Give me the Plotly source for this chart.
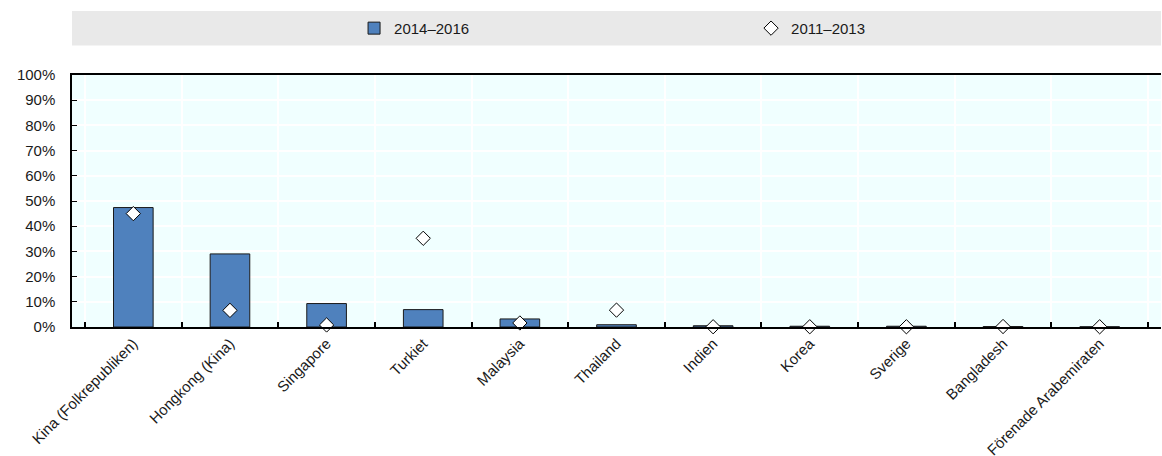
import plotly.graph_objects as go

categories = ["Kina (Folkrepubliken)", "Hongkong (Kina)", "Singapore", "Turkiet", "Malaysia",
              "Thailand", "Indien", "Korea", "Sverige", "Bangladesh", "Förenade Arabemiraten"]
share_2014_2016 = [47.4, 29.0, 9.3, 6.9, 3.2, 0.9, 0.5, 0.3, 0.3, 0.2, 0.1]
share_2011_2013 = [45.0, 6.6, 0.8, 35.2, 1.6, 6.7, 0.1, 0.1, 0.1, 0.2, 0.1]
y_ticks = [0, 10, 20, 30, 40, 50, 60, 70, 80, 90, 100]

FONT = "Liberation Sans, Arial, sans-serif"
TXT = "#1a1a1a"

fig = go.Figure()
fig.add_trace(go.Bar(
    x=categories, y=share_2014_2016, name="2014–2016",
    marker=dict(color="#4F81BD", line=dict(color="#1a1a1a", width=1)),
    width=0.41,
))
fig.add_trace(go.Scatter(
    x=categories, y=share_2011_2013, name="2011–2013", mode="markers",
    marker=dict(symbol="diamond", size=11, color="white", line=dict(color="black", width=1)),
    cliponaxis=False,
))

fig.add_shape(type="rect", xref="paper", yref="paper", x0=0, x1=1, y0=1.117, y1=1.254,
              fillcolor="#E9E9E9", line=dict(width=0), layer="below")

fig.update_layout(
    width=1162, height=464,
    margin=dict(l=72, r=1, t=75, b=137),
    paper_bgcolor="white", plot_bgcolor="#F0FFFF",
    font=dict(family=FONT, size=15, color=TXT),
    showlegend=True,
    legend=dict(orientation="h", x=0.259, xanchor="left", y=1.185, yanchor="middle",
                bgcolor="rgba(0,0,0,0)", entrywidth=352, entrywidthmode="pixels",
                font=dict(family=FONT, size=15, color=TXT), traceorder="normal"),
    xaxis=dict(
        type="category", tickson="boundaries", ticks="inside", ticklen=5, tickwidth=1.5,
        tickcolor="black", showgrid=True, gridcolor="white", gridwidth=1.5,
        showline=True, linecolor="black", linewidth=2, mirror=True,
        tickangle=-45, tickfont=dict(family=FONT, size=15, color=TXT),
    ),
    yaxis=dict(
        range=[0, 100], tickvals=y_ticks, ticktext=[f"{v}%" for v in y_ticks],
        ticks="inside", ticklen=5, tickcolor="black", tickwidth=1,
        showgrid=True, gridcolor="white", gridwidth=1.5,
        showline=True, linecolor="black", linewidth=1.5, zeroline=False,
        ticklabelstandoff=12,
        tickfont=dict(family=FONT, size=15, color=TXT),
    ),
)

fig.write_html(
    "out.html",
    config={"displayModeBar": False, "responsive": False},
    post_script="document.body.style.margin='0';document.body.style.overflow='hidden';",
)
